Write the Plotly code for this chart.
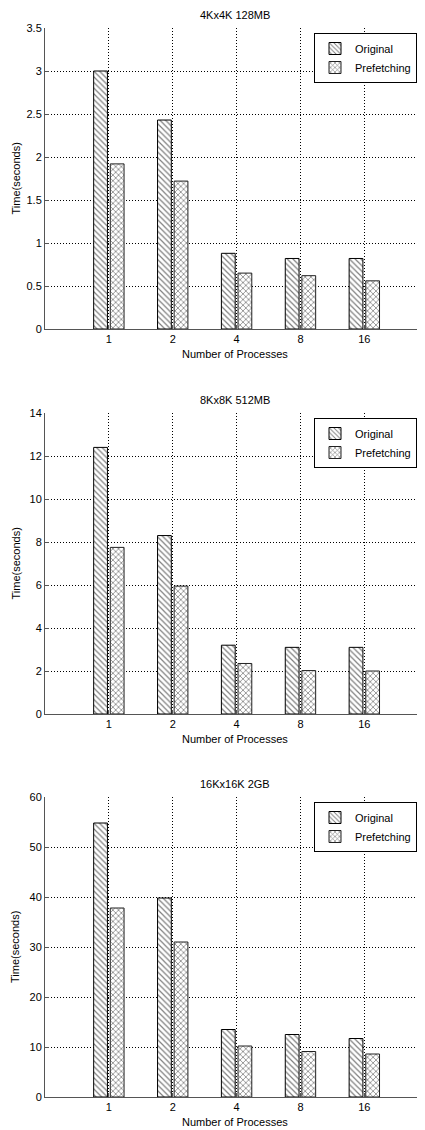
import plotly.graph_objects as go
from plotly.subplots import make_subplots

processes = ["1", "2", "4", "8", "16"]
titles = ["4Kx4K 128MB", "8Kx8K 512MB", "16Kx16K 2GB"]
original = [
    [3.0, 2.43, 0.88, 0.82, 0.82],
    [12.4, 8.3, 3.2, 3.1, 3.1],
    [54.8, 39.8, 13.5, 12.5, 11.7],
]
prefetching = [
    [1.92, 1.72, 0.65, 0.62, 0.56],
    [7.75, 5.95, 2.35, 2.02, 2.0],
    [37.8, 31.0, 10.2, 9.1, 8.6],
]
y_ranges = [[0, 3.5], [0, 14], [0, 60]]
y_dticks = [0.5, 2, 10]

OFF = 8  # page body margin
W, H = 425 - OFF, 1130 - OFF
L = 45 - OFF
# pixel extents (top, bottom) of each panel in page coordinates
panels_page = [(28, 329), (413, 714), (797, 1097)]
panels_px = [(t - OFF, b - OFF) for t, b in panels_page]

FONT = "Liberation Sans, Arial, sans-serif"
DOT = "1px,2px"

fig = make_subplots(rows=3, cols=1)

for i in range(3):
    legname = "legend" if i == 0 else f"legend{i+1}"
    fig.add_trace(go.Bar(
        x=processes, y=original[i], name="Original",
        marker=dict(color="white", line=dict(color="black", width=1),
                    pattern=dict(shape="\\", fgcolor="black", bgcolor="white",
                                 size=4, solidity=0.3)),
        legend=legname,
    ), row=i + 1, col=1)
    fig.add_trace(go.Bar(
        x=processes, y=prefetching[i], name="Prefetching",
        marker=dict(color="white", line=dict(color="#222222", width=1),
                    pattern=dict(shape="x", fgcolor="black", bgcolor="white",
                                 size=4, solidity=0.35)),
        legend=legname,
    ), row=i + 1, col=1)

layout = dict(
    width=W, height=H,
    margin=dict(l=L, r=0, t=0, b=0, autoexpand=False),
    paper_bgcolor="white", plot_bgcolor="white",
    barmode="group", bargap=0.48, bargroupgap=0.17,
    font=dict(family=FONT, size=11, color="black"),
    showlegend=True,
)

annotations = []
for i in range(3):
    top, bot = panels_px[i]
    d = [1 - bot / H, 1 - top / H]
    ax = "" if i == 0 else str(i + 1)
    layout[f"xaxis{ax}"] = dict(
        type="category", range=[-1, 4.95], domain=[0, 1],
        automargin=False,
        showline=True, linecolor="#555555", linewidth=1,
        ticks="inside", ticklen=4, tickcolor="#555555",
        showgrid=True, gridcolor="black", griddash=DOT, gridwidth=1,
        tickfont=dict(size=11),
        zeroline=False,
    )
    layout[f"yaxis{ax}"] = dict(
        domain=d, range=y_ranges[i], dtick=y_dticks[i], tick0=0,
        automargin=False,
        showline=True, linecolor="#555555", linewidth=1,
        ticks="inside", ticklen=4, tickcolor="#555555",
        showgrid=True, gridcolor="black", griddash=DOT, gridwidth=1,
        zeroline=False,
        tickfont=dict(size=11),
    )
    legname = "legend" if i == 0 else f"legend{i+1}"
    layout[legname] = dict(
        x=(314 - OFF - L) / (W - L), xanchor="left",
        y=1 - (top + 5) / H, yanchor="top",
        bordercolor="black", borderwidth=1, bgcolor="white",
        font=dict(size=11), tracegroupgap=0,
        itemwidth=30,
    )
    # panel title
    annotations.append(dict(
        text=titles[i], xref="paper", yref="paper",
        x=0.5, y=1 - (top - 13) / H,
        xanchor="center", yanchor="middle", showarrow=False,
        font=dict(size=11),
    ))
    # x axis title
    annotations.append(dict(
        text="Number of Processes", xref="paper", yref="paper",
        x=0.5, y=1 - (bot + 25) / H,
        xanchor="center", yanchor="middle", showarrow=False,
        font=dict(size=11),
    ))
    # y axis title
    annotations.append(dict(
        text="Time(seconds)", xref="paper", yref="paper",
        x=-(L - (15 - OFF)) / (W - L), y=1 - ((top + bot) / 2) / H,
        xanchor="center", yanchor="middle", showarrow=False,
        textangle=-90, font=dict(size=11),
    ))

layout["annotations"] = annotations
fig.update_layout(**layout)
fig.write_html("out.html")
